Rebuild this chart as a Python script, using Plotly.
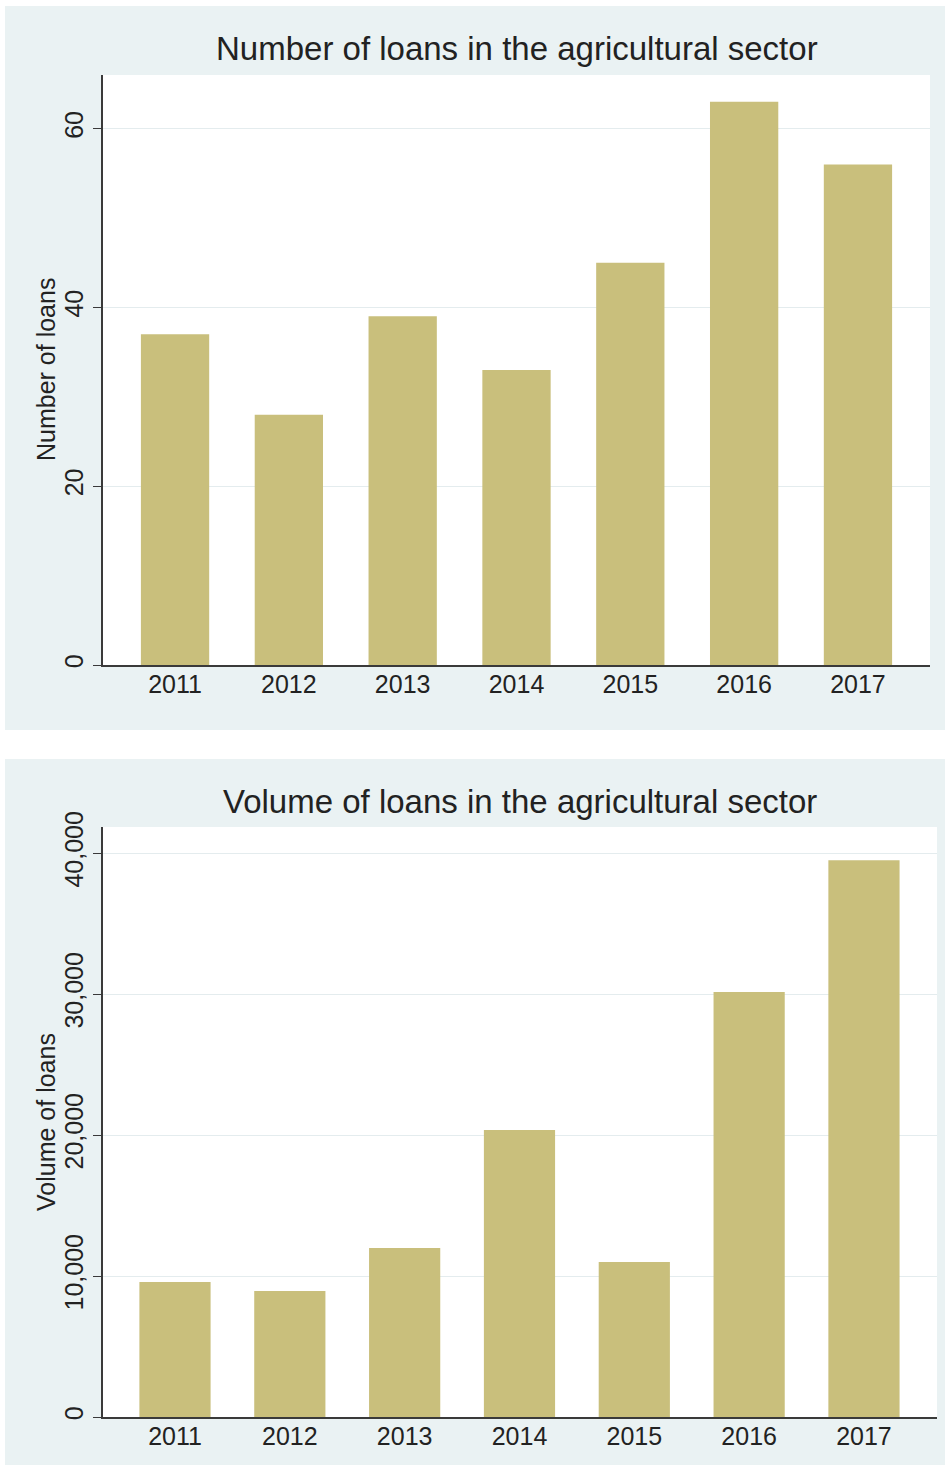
import plotly.graph_objects as go

# ---- data ----
years = [2011, 2012, 2013, 2014, 2015, 2016, 2017]
num_loans = [37, 28, 39, 33, 45, 63, 56]
vol_loans = [9570, 8940, 11990, 20350, 10990, 30140, 39500]
num_ticks = [0, 20, 40, 60]
vol_ticks = [0, 10000, 20000, 30000, 40000]
titles = ["Number of loans in the agricultural sector",
          "Volume of loans in the agricultural sector"]
ytitles = ["Number of loans", "Volume of loans"]

# ---- style ----
BAR = "#C9BF7C"
PANEL = "#EAF2F3"
GRID = "#E4ECEE"
AXIS = "#3a3a3a"
TXT = "#222222"
FONT = "Liberation Sans, Arial, sans-serif"

W, H = 945, 1470


def xp(px):
    return px / W


def yp(py):
    return 1 - py / H


def clamp(v):
    return min(1, max(0, v))


fig = go.Figure()
fig.add_trace(go.Bar(x=years, y=num_loans, xaxis="x", yaxis="y",
                     marker=dict(color=BAR, line=dict(width=0)), width=0.6,
                     hoverinfo="x+y"))
fig.add_trace(go.Bar(x=years, y=vol_loans, xaxis="x2", yaxis="y2",
                     marker=dict(color=BAR, line=dict(width=0)), width=0.62,
                     hoverinfo="x+y"))

panels = [
    dict(bg=(5, 6, 945, 730), plot=(103, 75, 930, 665)),
    dict(bg=(5, 759, 945, 1465), plot=(103, 827, 937, 1417)),
]

shapes = []
annotations = []
for i, p in enumerate(panels):
    bx0, by0, bx1, by1 = p["bg"]
    shapes.append(dict(type="rect", xref="paper", yref="paper", layer="below",
                       x0=clamp(xp(bx0)), x1=clamp(xp(bx1)),
                       y0=clamp(yp(by1)), y1=clamp(yp(by0)),
                       fillcolor=PANEL, line=dict(width=0)))
    px0, py0, px1, py1 = p["plot"]
    shapes.append(dict(type="rect", xref="paper", yref="paper", layer="below",
                       x0=xp(px0), x1=xp(px1), y0=yp(py1), y1=yp(py0),
                       fillcolor="white", line=dict(width=0)))
    # title
    annotations.append(dict(text=titles[i], xref="paper", yref="paper",
                            x=xp((px0 + px1) / 2), y=yp(py0 - 26),
                            xanchor="center", yanchor="middle", showarrow=False,
                            font=dict(family=FONT, size=33, color=TXT)))
    # y-axis title
    annotations.append(dict(text=ytitles[i], xref="paper", yref="paper",
                            x=xp(46), y=yp((py0 + py1) / 2),
                            xanchor="center", yanchor="middle", showarrow=False,
                            textangle=-90,
                            font=dict(family=FONT, size=25, color=TXT)))

common_x = dict(tickvals=years, ticks="", showline=True, linecolor=AXIS,
                linewidth=1.5, showgrid=False, zeroline=False,
                tickfont=dict(family=FONT, size=25, color=TXT),
                ticklabelstandoff=-4, fixedrange=True, automargin=False)
common_y = dict(tickangle=-90, ticks="outside", ticklen=8, tickwidth=1.3,
                tickcolor=AXIS, showline=True, linecolor=AXIS, linewidth=1.5,
                showgrid=True, gridcolor=GRID, gridwidth=1, zeroline=False,
                tickfont=dict(family=FONT, size=25, color=TXT),
                ticklabelstandoff=0, fixedrange=True, automargin=False)

p0, p1 = panels[0]["plot"], panels[1]["plot"]
fig.update_layout(
    width=W, height=H,
    margin=dict(l=0, r=0, t=0, b=0, pad=0, autoexpand=False),
    paper_bgcolor="white", plot_bgcolor="rgba(0,0,0,0)",
    showlegend=False,
    xaxis=dict(domain=[xp(p0[0]), xp(p0[2])], anchor="y",
               range=[2010.367, 2017.633], **common_x),
    yaxis=dict(domain=[yp(p0[3]), yp(p0[1])], anchor="x",
               range=[0, 66], tickvals=num_ticks, **common_y),
    xaxis2=dict(domain=[xp(p1[0]), xp(p1[2])], anchor="y2",
                range=[2010.373, 2017.636], **common_x),
    yaxis2=dict(domain=[yp(p1[3]), yp(p1[1])], anchor="x2",
                range=[0, 41850], tickvals=vol_ticks, tickformat=",",
                **common_y),
    shapes=shapes,
    annotations=annotations,
)

fig.write_html("out.html",
               config={"displayModeBar": False},
               post_script="document.body.style.margin='0';"
                           "document.body.style.overflow='hidden';")
